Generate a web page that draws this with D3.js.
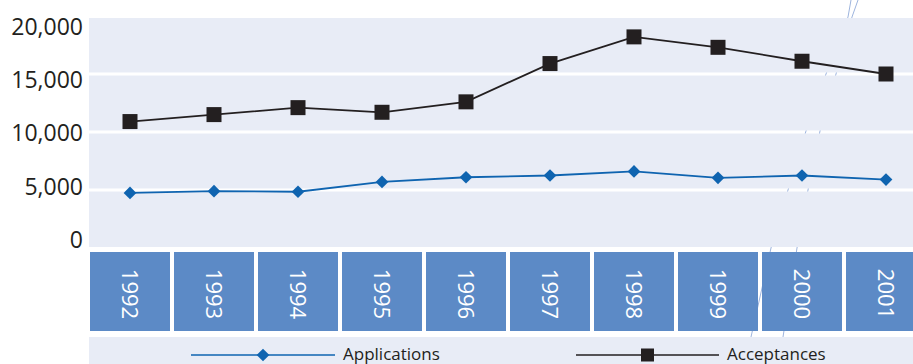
<!DOCTYPE html>
<html>
<head>
<meta charset="utf-8">
<script src="https://cdn.jsdelivr.net/npm/d3@7"></script>
<style>
  html, body { margin: 0; padding: 0; background: #fff; }
  svg { display: block; font-family: "Open Sans", sans-serif; }
</style>
</head>
<body>
<div id="graph"></div>
<script>
// données
var years = ["1992", "1993", "1994", "1995", "1996", "1997", "1998", "1999", "2000", "2001"];
var applications = [4750, 4900, 4850, 5700, 6100, 6250, 6600, 6050, 6250, 5900];
var acceptances = [10900, 11500, 12100, 11700, 12600, 15900, 18200, 17300, 16100, 15000];
var yTicks = [0, 5000, 10000, 15000, 20000];
var seriesNames = ["Applications", "Acceptances"];

var width = 913, height = 364;
var plot = {left: 89, right: 913, top: 18, bottom: 247};

var svg = d3.select("#graph")
  .append("svg")
    .attr("width", width)
    .attr("height", height);

// échelles
var x = d3.scaleBand()
  .domain(years)
  .range([90, 930]);
var boxW = x.bandwidth() - 4;
var cx = function(d, i) { return x(years[i]) + boxW / 2; };

var y = d3.scaleLinear()
  .domain([0, 20000])
  .range([248, 16]);

// les étiquettes de l'axe Y ne tombent pas exactement sur la grille dans l'original
var yLab = d3.scaleLinear()
  .domain([0, 20000])
  .range([240, 27]);

// fond du graphique
svg.append("rect")
  .attr("x", plot.left).attr("y", plot.top)
  .attr("width", plot.right - plot.left).attr("height", plot.bottom - plot.top)
  .attr("fill", "#e8ecf6");

// lignes de grille blanches
var grid = yTicks.filter(function(t) { return t > 0 && t < 20000; });
svg.append("g")
  .selectAll("line")
  .data(grid)
  .enter().append("line")
    .attr("x1", plot.left).attr("x2", plot.right)
    .attr("y1", function(d) { return y(d); })
    .attr("y2", function(d) { return y(d); })
    .attr("stroke", "#fff")
    .attr("stroke-width", 3);

// axe Y (texte seulement)
var yAxis = svg.append("g")
  .attr("transform", "translate(83,0)")
  .call(d3.axisLeft(yLab).tickValues(yTicks).tickSize(0).tickPadding(0)
    .tickFormat(d3.format(",")));
yAxis.select(".domain").remove();
yAxis.selectAll("text")
  .attr("fill", "#231f20")
  .style("font-size", "23px")
  .style("font-family", "'Open Sans', sans-serif");

// cases des années
var boxes = svg.append("g")
  .selectAll("g")
  .data(years)
  .enter().append("g")
    .attr("transform", function(d) { return "translate(" + x(d) + ",252)"; });
boxes.append("rect")
  .attr("width", boxW)
  .attr("height", 79)
  .attr("fill", "#5c8ac6");
boxes.append("text")
  .attr("transform", "translate(" + (boxW / 2) + ",42) rotate(90)")
  .attr("text-anchor", "middle")
  .attr("dy", "0.35em")
  .attr("fill", "#fff")
  .style("font-size", "22px")
  .text(function(d) { return d; });

// bande de la légende
svg.append("rect")
  .attr("x", plot.left).attr("y", 337)
  .attr("width", plot.right - plot.left).attr("height", height - 337)
  .attr("fill", "#e8ecf6");

// traits décoratifs pâles, visibles seulement dans les zones blanches
var clip = svg.append("clipPath").attr("id", "blanc");
clip.append("rect").attr("x", 0).attr("y", 0).attr("width", width).attr("height", plot.top);
clip.append("rect").attr("x", 0).attr("y", plot.bottom).attr("width", width).attr("height", 5);
clip.append("rect").attr("x", 0).attr("y", 331).attr("width", width).attr("height", 6);
grid.forEach(function(t) {
  clip.append("rect").attr("x", 0).attr("y", y(t) - 1.5).attr("width", width).attr("height", 3);
});
years.forEach(function(d) {
  clip.append("rect").attr("x", x(d) + boxW).attr("y", 252).attr("width", 4).attr("height", 79);
});
var deco = [
  [[851, 0], [848, 17], [826, 74], [806, 131], [788, 190], [771, 248], [751, 337]],
  [[858, 0], [852, 17], [836, 74], [820, 131], [808, 190], [797, 248], [783, 337]]
];
svg.append("g")
  .attr("clip-path", "url(#blanc)")
  .selectAll("path")
  .data(deco)
  .enter().append("path")
    .attr("d", d3.line())
    .attr("fill", "none")
    .attr("stroke", "#9db4de")
    .attr("stroke-width", 1);

// courbes
var line = d3.line()
  .x(function(d, i) { return cx(d, i); })
  .y(function(d) { return y(d); });

svg.append("path")
  .datum(acceptances)
  .attr("fill", "none")
  .attr("stroke", "#231f20")
  .attr("stroke-width", 1.8)
  .attr("d", line);

svg.append("path")
  .datum(applications)
  .attr("fill", "none")
  .attr("stroke", "#0f64b0")
  .attr("stroke-width", 1.8)
  .attr("d", line);

// points
var sq = d3.symbol().type(d3.symbolSquare).size(15 * 15);
var dia = d3.symbol().type(d3.symbolSquare).size(9 * 9);

svg.append("g")
  .selectAll("path")
  .data(acceptances)
  .enter().append("path")
    .attr("d", sq)
    .attr("transform", function(d, i) { return "translate(" + cx(d, i) + "," + y(d) + ")"; })
    .attr("fill", "#231f20");

svg.append("g")
  .selectAll("path")
  .data(applications)
  .enter().append("path")
    .attr("d", dia)
    .attr("transform", function(d, i) { return "translate(" + cx(d, i) + "," + y(d) + ") rotate(45)"; })
    .attr("fill", "#0f64b0");

// légende
var legend = [
  {name: seriesNames[0], x1: 191, x2: 335, color: "#0f64b0", width: 1.5, sym: dia, rot: 45},
  {name: seriesNames[1], x1: 576, x2: 719, color: "#231f20", width: 1.5, sym: d3.symbol().type(d3.symbolSquare).size(13 * 13), rot: 0}
];
var lg = svg.append("g")
  .selectAll("g")
  .data(legend)
  .enter().append("g");
lg.append("line")
  .attr("x1", function(d) { return d.x1; })
  .attr("x2", function(d) { return d.x2; })
  .attr("y1", 355).attr("y2", 355)
  .attr("stroke", function(d) { return d.color; })
  .attr("stroke-width", function(d) { return d.width; });
lg.append("path")
  .attr("d", function(d) { return d.sym(); })
  .attr("transform", function(d) { return "translate(" + ((d.x1 + d.x2) / 2) + ",355) rotate(" + d.rot + ")"; })
  .attr("fill", function(d) { return d.color; });
lg.append("text")
  .attr("x", function(d) { return d.x2 + 8; })
  .attr("y", 360)
  .attr("fill", "#231f20")
  .style("font-size", "17px")
  .text(function(d) { return d.name; });
</script>
</body>
</html>
